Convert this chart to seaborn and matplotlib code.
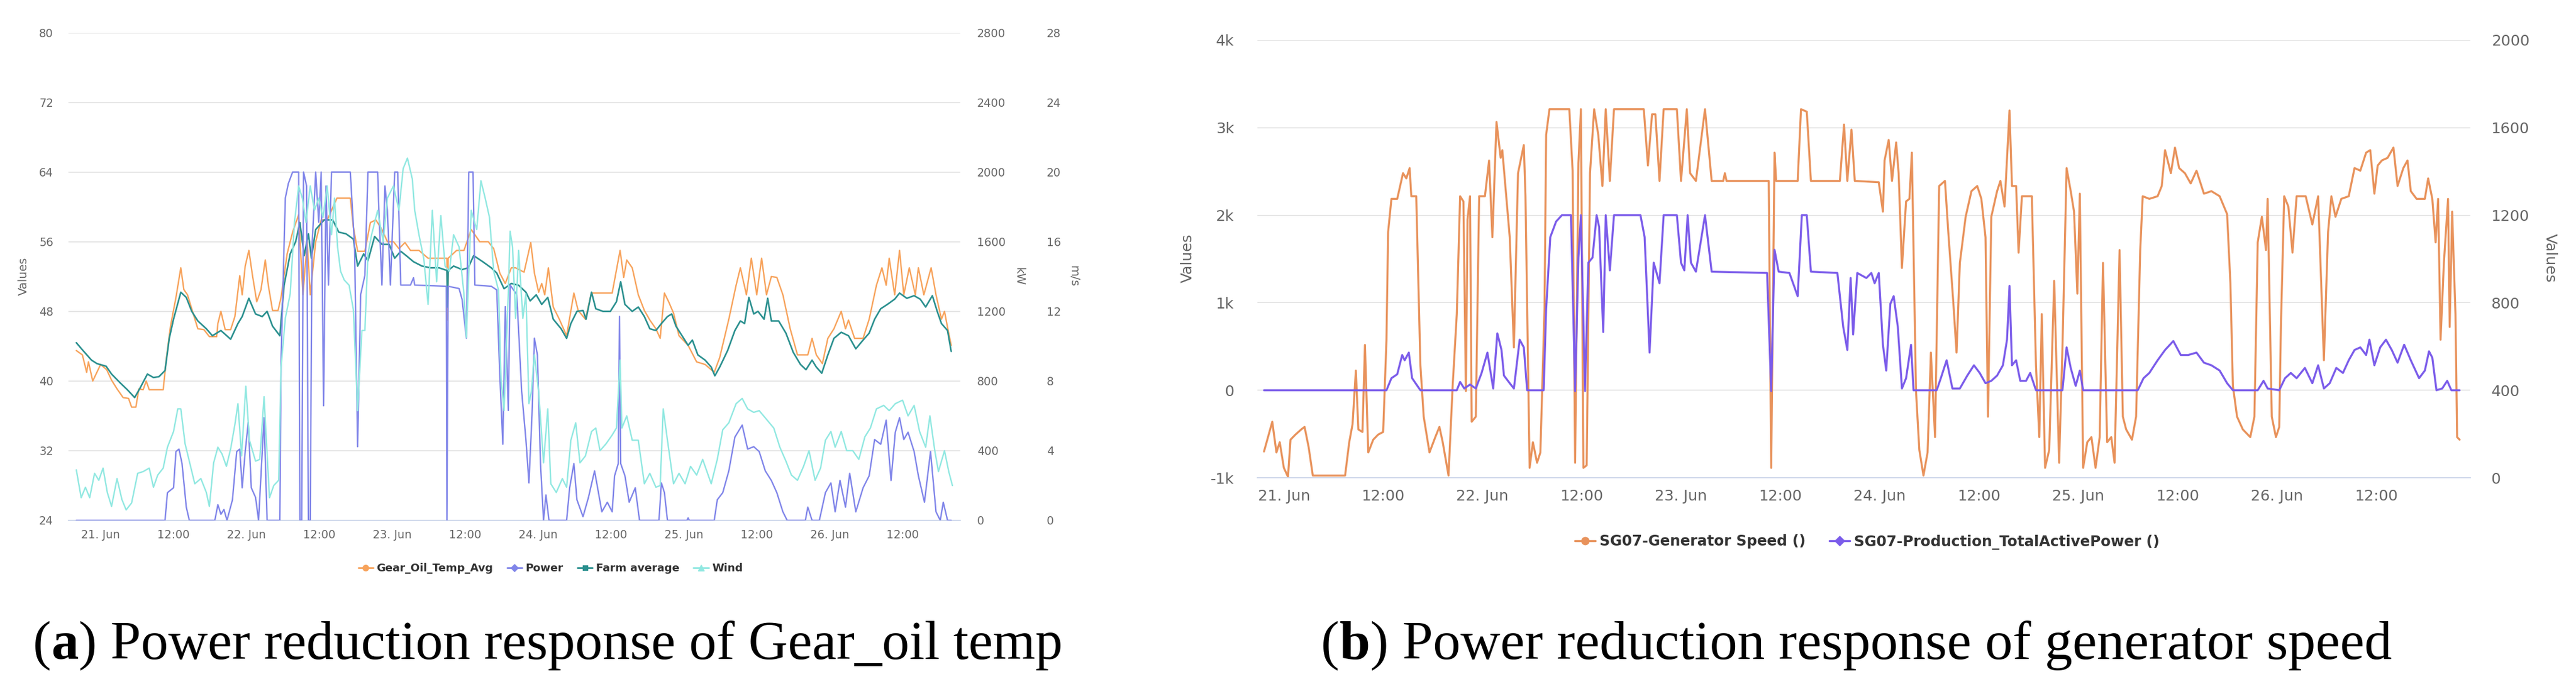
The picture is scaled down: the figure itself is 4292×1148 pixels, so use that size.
"""
Two Highcharts-style wind turbine panels rebuilt with seaborn:
(a) gear oil temperature vs power / wind, (b) generator speed vs active power.
"""

# =============== IMPORTS ===============
import matplotlib
matplotlib.use("Agg")
import matplotlib.pyplot as plt
from matplotlib.lines import Line2D
import seaborn as sns


# =============== DATA (hours after 21 Jun 00:00) ===============
# (a) Gear_Oil_Temp_Avg, deg C (left axis)
gear_t = [-4.0, -3.0, -2.3, -2.0, -1.3, 0.0, 1.0, 1.8, 2.7, 3.7, 4.6, 5.1, 5.8, 6.3, 7.0, 7.5, 8.0, 10.3,
          10.8, 11.5, 12.4, 13.2, 13.7, 14.3, 15.0, 16.0, 17.0, 17.9, 19.1, 19.3, 19.8, 20.5, 21.4, 22.1,
          22.9, 23.3, 23.8, 24.4, 25.0, 25.7, 26.4, 27.1, 27.6, 28.3, 29.2, 29.7, 30.7, 31.6, 32.6, 33.3,
          34.0, 34.5, 35.4, 36.3, 37.3, 38.2, 38.9, 41.1, 41.6, 42.3, 43.5, 44.4, 45.3, 46.3, 47.2, 48.2,
          49.1, 50.1, 51.0, 52.4, 53.9, 55.8, 57.0, 57.1, 57.2, 58.6, 59.8, 61.0, 62.4, 63.8, 64.7, 65.7,
          66.6, 67.6, 68.3, 69.7, 70.8, 71.4, 72.1, 72.6, 73.1, 73.7, 74.5, 75.5, 76.7, 77.9, 78.6, 79.8,
          80.8, 84.2, 84.6, 85.5, 86.1, 86.6, 87.5, 88.5, 89.5, 90.4, 91.4, 92.1, 92.8, 93.5, 94.3, 95.2,
          96.7, 98.1, 99.5, 101.0, 101.9, 103.4, 104.6, 105.3, 106.3, 107.1, 108.0, 108.8, 109.6, 110.4,
          111.3, 112.3, 113.5, 114.7, 116.4, 117.1, 117.8, 118.8, 119.7, 120.7, 121.9, 122.6, 123.1, 124.1,
          125.5, 126.5, 127.7, 128.6, 129.3, 129.8, 130.7, 131.5, 132.2, 133.1, 134.1, 134.6, 135.5, 136.7,
          137.5, 138.4, 138.9, 139.5, 140.0]
gear_v = [43.5, 43.0, 41.0, 42.2, 40.0, 41.9, 41.3, 40.1, 39.1, 38.1, 38.0, 37.0, 37.0, 39.1, 39.0, 40.0, 39.0, 39.0,
          42.4, 46.3, 49.6, 53.0, 50.5, 49.9, 48.3, 46.0, 45.9, 45.1, 45.1, 46.6, 48.0, 45.9, 45.9, 47.4,
          52.1, 49.9, 53.2, 55.0, 52.1, 49.1, 50.5, 53.9, 51.0, 48.1, 48.1, 49.6, 54.6, 57.1, 59.1, 49.9,
          56.0, 49.9, 56.0, 58.5, 58.5, 59.9, 61.0, 61.0, 57.7, 54.9, 54.9, 58.2, 58.5, 57.4, 56.0, 56.0,
          55.2, 55.9, 55.0, 55.0, 54.1, 54.1, 54.1, 47.0, 54.1, 55.0, 55.0, 57.4, 56.0, 56.0, 55.2, 52.4,
          51.2, 53.0, 53.0, 52.5, 55.9, 52.4, 50.2, 51.2, 49.9, 53.0, 48.5, 47.1, 45.2, 50.1, 48.1, 47.1,
          50.1, 50.1, 51.6, 55.0, 51.9, 53.9, 53.0, 49.9, 48.1, 47.0, 46.0, 44.9, 50.1, 49.1, 47.8, 45.2,
          44.1, 42.2, 41.9, 41.0, 42.7, 47.1, 51.0, 53.0, 49.9, 54.1, 49.9, 54.1, 49.9, 52.0,
          51.9, 49.9, 46.0, 43.0, 43.0, 44.9, 43.0, 42.0, 44.9, 46.0, 48.0, 46.0, 47.0, 44.9,
          44.9, 47.1, 51.0, 53.0, 51.0, 54.1, 49.9, 55.0, 49.9, 53.0, 49.9, 53.0, 49.9, 53.0,
          49.9, 47.1, 48.0, 45.8, 44.1]

# (a) Farm average, deg C (left axis)
farm_t = [-4.0, -2.9, -1.5, -0.6, 0.9, 1.8, 3.2, 4.4, 5.6, 6.5, 7.7, 8.7, 9.6, 10.6, 11.3, 12.0, 13.2, 14.1,
          15.0, 16.0, 17.4, 18.4, 19.8, 21.4, 22.6, 23.3, 24.4, 25.5, 26.6, 27.4, 28.3, 29.5, 30.2, 31.2,
          32.1, 32.8, 33.5, 34.2, 34.7, 35.4, 36.8, 38.2, 39.2, 40.4, 41.6, 42.3, 43.3, 44.0, 45.1, 46.3,
          47.5, 48.4, 49.4, 50.3, 51.5, 52.9, 54.3, 55.7, 57.0, 57.1, 57.2, 58.1, 59.5, 60.5, 61.4, 62.9,
          64.3, 65.2, 66.4, 67.6, 68.8, 70.0, 70.7, 71.7, 72.6, 73.6, 74.5, 75.8, 76.7, 77.4, 78.4, 79.4,
          79.9, 80.8, 81.5, 82.7, 83.9, 84.9, 85.6, 86.3, 87.5, 88.5, 89.5, 90.4, 91.4, 92.3, 93.3, 94.0,
          94.7, 95.7, 96.7, 97.4, 98.3, 99.5, 100.5, 101.1, 101.9, 103.2, 104.4, 105.3, 106.0, 106.7, 107.5,
          108.2, 109.2, 109.8, 110.4, 111.6, 112.8, 114.0, 115.2, 116.1, 117.1, 117.8, 118.7, 119.7, 120.7,
          121.9, 123.1, 124.3, 125.5, 126.5, 127.4, 128.4, 129.5, 130.7, 131.5, 132.7, 133.9, 134.9, 135.8,
          136.9, 137.7, 138.4, 139.4, 140.0]
farm_v = [44.4, 43.5, 42.4, 42.0, 41.7, 40.8, 39.8, 39.0, 38.1, 39.2, 40.8, 40.4, 40.5, 41.2, 44.9, 47.1, 50.2, 49.6,
          48.0, 46.9, 46.0, 45.2, 45.8, 44.8, 46.6, 47.4, 49.5, 47.7, 47.4, 48.0, 46.3, 45.2, 51.0, 54.6,
          56.0, 58.2, 54.4, 56.9, 54.1, 57.4, 58.5, 58.5, 57.1, 56.9, 56.3, 53.2, 54.6, 53.8, 56.6, 55.7,
          55.7, 54.1, 54.9, 54.4, 53.7, 53.2, 53.0, 53.0, 52.7, 48.5, 52.7, 53.2, 52.8, 53.0, 54.4, 53.7,
          53.0, 52.4, 50.6, 51.2, 51.0, 50.2, 49.2, 49.9, 48.8, 49.6, 47.1, 46.0, 44.9, 46.6, 48.0, 48.1,
          47.1, 50.2, 48.3, 48.0, 48.0, 49.1, 51.4, 48.8, 48.0, 48.5, 47.4, 46.0, 45.8, 46.6, 47.4, 47.7,
          46.3, 45.2, 44.1, 44.7, 43.0, 42.4, 41.6, 40.6, 41.6, 43.5, 45.8, 46.9, 46.6, 49.6, 47.7,
          48.0, 47.1, 49.5, 46.9, 46.9, 45.5, 43.3, 41.9, 41.3, 42.4, 41.6, 40.9, 43.0, 44.9,
          45.6, 45.2, 43.7, 44.7, 45.5, 47.1, 48.3, 48.8, 49.4, 50.1, 49.5, 49.8, 49.4, 48.5,
          49.8, 48.0, 46.6, 45.8, 43.4]

# (a) Power, kW (first right axis)
power_t = [-4.0, 10.6, 11.0, 12.0, 12.4, 12.9, 13.4, 14.1, 14.6, 18.8, 19.3, 19.8, 20.3, 20.8, 21.7, 22.4,
           22.9, 23.3, 23.8, 24.3, 24.8, 25.5, 26.0, 26.6, 26.9, 27.4, 29.5, 29.7, 30.4, 30.9, 31.6, 32.6,
           32.8, 33.1, 33.4, 33.9, 34.2, 34.5, 34.8, 35.4, 35.9, 36.3, 36.7, 37.1, 37.5, 38.0, 41.1, 41.8,
           42.3, 42.8, 43.5, 44.0, 45.6, 45.8, 46.3, 46.8, 47.2, 47.7, 48.4, 48.9, 49.4, 51.0, 51.5, 51.7,
           56.9, 57.0, 57.2, 59.0, 59.5, 60.2, 60.6, 61.3, 61.6, 64.3, 65.2, 65.7, 66.2, 66.6, 67.1, 67.4,
           68.5, 69.3, 70.0, 70.5, 71.0, 71.4, 71.9, 72.4, 72.9, 73.3, 73.8, 76.7, 77.2, 77.9, 78.4, 79.4,
           80.3, 81.3, 81.8, 82.5, 83.4, 84.2, 84.6, 85.2, 85.4, 85.6, 86.3, 87.0, 88.0, 88.7, 91.9, 92.3,
           92.8, 93.3, 96.5, 96.7, 96.9, 101.0, 101.5, 102.4, 103.4, 104.4, 105.6, 106.5, 107.5, 108.4,
           109.4, 110.4, 111.3, 112.3, 113.0, 116.0, 116.4, 117.1, 118.3, 119.3, 120.2, 120.9, 121.7, 122.6,
           123.3, 124.3, 125.5, 126.5, 127.4, 128.4, 129.3, 130.1, 130.8, 131.5, 132.2, 132.9, 133.9, 134.6,
           135.6, 136.6, 137.5, 138.2, 138.7, 139.4, 140.0]
power_v = [0, 0, 159, 187, 395, 409, 326, 76, 0, 0, 90, 35, 62, 0, 118, 395,
           409, 187, 395, 561, 187, 132, 0, 395, 589, 0, 0, 922, 1850, 1934, 2000, 2000,
           0, 0, 2000, 1920, 0, 0, 1573, 2000, 1712, 2000, 658, 1920, 1351, 2000, 2000, 1573,
           423, 1296, 1407, 2000, 2000, 1781, 1351, 1920, 1781, 1351, 2000, 2000, 1351, 1351, 1393, 1351,
           1344, 0, 1344, 1331, 1268, 1046, 2000, 2000, 1351, 1344, 1323, 838, 437, 1227, 631, 1351,
           1296, 742, 464, 215, 603, 1046, 949, 326, 0, 146, 0, 0, 187, 326, 118, 21,
           132, 284, 187, 49, 104, 49, 256, 326, 1171, 326, 256, 104, 187, 0, 0, 215,
           159, 0, 0, 14, 0, 0, 118, 159, 284, 478, 547, 409, 423, 395,
           284, 229, 159, 49, 0, 0, 76, 0, 0, 159, 215, 49, 229, 76,
           270, 49, 187, 256, 464, 437, 575, 229, 506, 589, 464, 506, 395, 256,
           104, 395, 49, 0, 104, 0, 0]

# (a) Wind, m/s (second right axis)
wind_t = [-4.0, -3.2, -2.5, -1.8, -1.0, -0.3, 0.4, 1.1, 1.8, 2.7, 3.5, 4.2, 5.1, 6.1, 7.0, 8.0, 8.7, 9.4,
          10.3, 11.0, 12.0, 12.7, 13.2, 13.9, 14.6, 15.5, 16.5, 17.4, 17.9, 18.6, 19.3, 20.0, 20.7, 21.4,
          22.1, 22.6, 23.2, 23.9, 24.5, 25.5, 26.2, 26.9, 27.4, 27.8, 28.5, 29.3, 29.7, 30.4, 31.2, 31.9,
          32.6, 33.2, 33.8, 34.5, 35.2, 35.9, 36.6, 37.3, 38.0, 38.5, 39.0, 39.5, 40.1, 40.9, 41.6, 42.3,
          43.0, 43.5, 44.0, 44.6, 45.6, 46.5, 47.2, 48.2, 49.1, 49.8, 50.5, 51.3, 51.7, 52.4, 53.2, 53.9,
          54.6, 55.3, 56.0, 56.7, 57.4, 58.1, 59.0, 59.8, 60.2, 61.0, 61.9, 62.6, 63.3, 64.0, 64.7, 65.5,
          65.9, 66.4, 67.1, 67.4, 67.8, 68.3, 68.8, 69.5, 70.0, 70.5, 70.9, 71.4, 72.1, 72.9, 73.6, 74.1,
          75.0, 76.0, 76.7, 77.4, 78.2, 78.9, 79.8, 80.8, 81.5, 82.2, 83.2, 84.2, 84.9, 85.5, 85.8, 86.6,
          87.5, 88.5, 89.5, 90.4, 91.4, 92.1, 92.6, 93.3, 94.3, 95.2, 96.2, 97.1, 98.1, 99.1, 100.5, 101.5,
          102.4, 103.4, 104.6, 105.6, 106.5, 107.5, 108.4, 109.6, 110.8, 111.8, 112.8, 113.7, 114.7, 115.7,
          116.6, 117.6, 118.5, 119.3, 120.2, 120.9, 121.9, 122.8, 123.8, 124.8, 125.8, 126.7, 127.7, 128.9,
          129.8, 130.8, 132.0, 132.9, 133.9, 134.8, 135.8, 136.5, 137.3, 137.9, 138.9, 139.6, 140.2]
wind_v = [2.9, 1.3, 1.9, 1.3, 2.7, 2.3, 3.0, 1.6, 0.8, 2.4, 1.2, 0.6, 1.0, 2.7, 2.8, 3.0, 1.9, 2.6,
          3.0, 4.2, 5.1, 6.4, 6.4, 4.4, 3.4, 2.1, 2.4, 1.6, 0.8, 3.3, 4.2, 3.8, 3.1, 4.1,
          5.5, 6.7, 3.7, 7.7, 4.6, 3.4, 3.5, 7.1, 3.8, 1.3, 2.0, 2.3, 8.8, 11.6, 13.0, 17.1,
          19.2, 18.5, 17.1, 19.2, 17.8, 18.5, 17.4, 19.2, 16.4, 18.5, 15.7, 14.3, 13.8, 13.5, 12.1, 6.3,
          10.9, 10.9, 15.3, 16.4, 17.8, 16.0, 18.5, 19.2, 17.8, 20.2, 20.8, 19.6, 17.8, 16.4, 15.0, 12.4,
          17.8, 13.7, 17.5, 14.6, 14.3, 16.4, 15.7, 13.0, 10.5, 17.8, 16.7, 19.5, 18.5, 17.4, 14.3, 13.2,
          8.1, 6.3, 13.0, 16.6, 15.7, 11.6, 15.5, 11.6, 13.0, 6.7, 7.4, 9.5, 7.4, 3.3, 6.4, 2.1,
          1.6, 2.4, 1.9, 4.6, 5.6, 3.3, 3.7, 5.1, 5.3, 4.0, 4.4, 4.9, 5.3, 9.2, 5.3, 6.0,
          4.6, 4.6, 2.1, 2.7, 1.9, 2.0, 6.4, 4.6, 2.1, 2.7, 2.1, 3.1, 2.6, 3.5, 2.1, 3.5,
          5.2, 5.6, 6.7, 7.0, 6.4, 6.2, 6.3, 5.8, 5.3, 4.2, 3.4, 2.6, 2.3, 3.1,
          4.0, 2.3, 3.0, 4.6, 5.1, 4.2, 5.1, 4.0, 4.0, 3.5, 4.8, 5.3, 6.4, 6.6,
          6.3, 6.7, 6.9, 6.0, 6.6, 5.1, 4.2, 6.0, 4.0, 2.8, 4.0, 2.8, 2.0]

# (b) SG07-Generator Speed (left axis)
speed_t = [-2.4, -1.4, -0.9, -0.5, 0.0, 0.5, 0.8, 1.4, 2.1, 2.5, 3.0, 3.5, 7.4, 7.9, 8.3, 8.7, 9.0, 9.5, 9.8,
           10.2, 10.8, 11.4, 12.0, 12.4, 12.6, 13.0, 13.7, 14.4, 14.8, 15.2, 15.4, 16.0, 16.5, 16.9, 17.6,
           18.3, 18.8, 19.2, 19.9, 20.4, 20.9, 21.3, 21.7, 22.0, 22.2, 22.5, 22.7, 23.2, 23.6, 24.3, 24.8,
           25.2, 25.7, 26.2, 26.4, 26.9, 27.3, 27.8, 28.3, 29.0, 29.2, 29.7, 30.1, 30.6, 31.0, 31.5, 31.7,
           32.1, 34.5, 34.9, 35.2, 35.6, 35.9, 36.2, 36.6, 37.0, 37.5, 38.0, 38.5, 38.9, 39.4, 39.9, 43.5,
           44.0, 44.5, 44.9, 45.4, 45.9, 47.5, 48.0, 48.7, 49.1, 49.8, 50.9, 51.7, 53.1, 53.3, 53.5, 58.6,
           58.9, 59.3, 59.5, 62.1, 62.5, 63.2, 63.7, 67.2, 67.7, 68.1, 68.6, 69.0, 71.9, 72.4, 72.6, 73.1,
           73.5, 74.0, 74.3, 74.7, 75.2, 75.6, 75.9, 76.4, 76.8, 77.3, 77.8, 78.2, 78.7, 79.2, 79.9, 80.3,
           80.9, 81.3, 81.7, 82.4, 83.1, 83.8, 84.3, 84.8, 85.1, 85.5, 86.2, 86.6, 87.1, 87.7, 88.0, 88.5,
           88.8, 89.2, 90.4, 90.9, 91.3, 91.6, 92.0, 92.5, 93.1, 93.7, 94.1, 94.6, 95.1, 95.5, 95.9, 96.2,
           96.6, 97.1, 97.6, 98.1, 98.6, 99.0, 99.5, 100.0, 100.4, 101.0, 101.4, 101.8, 102.5, 103.0, 103.5,
           103.8, 104.6, 105.6, 106.1, 106.5, 107.2, 107.7, 108.2, 108.9, 109.6, 110.3, 111.2, 112.1, 113.1,
           114.0, 114.4, 114.7, 115.2, 115.9, 116.8, 117.3, 117.7, 118.2, 118.7, 118.9, 119.4, 119.9, 120.3,
           120.5, 120.9, 121.4, 121.9, 122.4, 123.5, 124.3, 125.0, 125.7, 126.2, 126.6, 127.1, 127.8, 128.7,
           129.4, 130.1, 130.8, 131.3, 131.8, 132.2, 132.7, 133.4, 134.1, 134.6, 135.3, 135.8, 136.2, 136.9,
           137.9, 138.3, 138.8, 139.2, 139.5, 139.8, 140.2, 140.7, 140.9, 141.2, 141.6, 141.8, 142.1]
speed_v = [-700, -360, -711, -594, -887, -990, -565, -507, -448, -419, -653, -975, -975, -594, -389, 225, -448, -477, 518,
           -711, -565, -507, -477, 577, 1807, 2187, 2187, 2480, 2421, 2539, 2217, 2217, 284, -302, -711,
           -536, -419, -594, -975, 50, 870, 2217, 2158, -9, 1953, 2217, -360, -302, 2217, 2217, 2626,
           1748, 3066, 2656, 2744, 2187, 1748, 489, 2480, 2802, 2217, -887, -594, -829, -711, 928, 2919,
           3212, 3212, 2509, -829, 2597, 3212, -887, -858, 2480, 3212, 2919, 2334, 3212, 2392, 3212, 3212,
           2568, 3154, 3154, 2392, 3212, 3212, 2392, 3212, 2480, 2392, 3212, 2392, 2392, 2480, 2392, 2392,
           -887, 2715, 2392, 2392, 3212, 3183, 2392, 2392, 3036, 2392, 2978, 2392, 2377, 2041, 2626, 2861,
           2392, 2832, 2480, 1397, 2158, 2187, 2715, -9, -682, -975, -711, 430, -536, 2334, 2392, 1807,
           1016, 430, 1455, 1982, 2275, 2334, 2187, 1748, -302, 1982, 2275, 2392, 2099, 3197, 2334, 2334,
           1572, 2217, 2217, 284, -536, 870, -887, -682, 1250, -829, 489, 2539, 2275, 2041, 1104, 2246,
           -887, -594, -536, -887, -536, 1455, -594, -536, -829, 1602, -302, -448, -565, -302, 1602,
           2217, 2187, 2217, 2334, 2744, 2480, 2773, 2539, 2480, 2363, 2509, 2246, 2275, 2217,
           2012, 1221, 50, -302, -448, -536, -302, 1690, 1982, 1602, 2187, -302, -536, -419,
           723, 2217, 2099, 1572, 2217, 2217, 1894, 2217, 343, 1807, 2217, 1982, 2187, 2217,
           2539, 2509, 2715, 2744, 2246, 2568, 2626, 2656, 2773, 2334, 2539, 2626, 2275, 2187,
           2187, 2421, 2187, 1690, 2187, 577, 1455, 2187, 723, 2041, 870, -536, -565]

# (b) SG07-Production_TotalActivePower (right axis)
prod_t = [-2.4, 12.4, 13.0, 13.7, 14.3, 14.6, 15.1, 15.5, 16.5, 20.9, 21.3, 21.8, 22.5, 23.2, 23.9, 24.6, 25.3,
          25.8, 26.3, 26.6, 27.3, 27.8, 28.5, 29.0, 29.4, 31.4, 31.7, 32.2, 32.9, 33.6, 34.7, 35.2, 35.6,
          35.9, 36.4, 36.8, 37.3, 37.8, 38.1, 38.6, 38.9, 39.4, 39.9, 43.1, 43.6, 44.2, 44.7, 45.4, 45.9,
          47.5, 48.0, 48.4, 48.8, 49.2, 49.8, 50.9, 51.7, 58.4, 58.9, 59.3, 59.8, 61.1, 62.1, 62.6, 63.2,
          63.7, 66.9, 67.6, 68.1, 68.5, 68.8, 69.3, 70.4, 71.0, 71.4, 71.9, 72.4, 72.8, 73.3, 73.7, 74.2,
          74.7, 75.2, 75.8, 76.1, 78.9, 79.4, 80.1, 80.8, 81.7, 82.6, 83.4, 84.1, 84.8, 85.5, 86.2, 86.9,
          87.4, 87.7, 88.0, 88.5, 89.0, 89.7, 90.2, 90.9, 94.1, 94.6, 95.1, 95.7, 96.2, 96.6, 103.2, 103.9,
          104.6, 105.6, 106.5, 107.5, 108.4, 109.3, 110.3, 111.2, 112.1, 113.1, 114.0, 114.7, 117.7, 118.4,
          118.9, 120.3, 121.0, 121.7, 122.4, 123.4, 124.3, 125.0, 125.7, 126.4, 127.2, 128.0, 128.7, 129.4,
          130.1, 130.8, 131.2, 131.8, 132.5, 133.2, 133.9, 134.6, 135.4, 136.2, 137.2, 137.9, 138.4, 138.8,
          139.3, 140.0, 140.6, 141.1, 142.1]
prod_v = [400, 400, 455, 473, 561, 537, 572, 455, 400, 400, 438, 408, 426, 408, 479, 572, 408,
          660, 584, 467, 432, 408, 631, 596, 400, 400, 772, 1100, 1171, 1200, 1200, 396, 1006,
          1200, 396, 983, 1006, 1200, 1147, 666, 1200, 948, 1200, 1200, 1100, 572, 983, 889, 1200,
          1200, 983, 948, 1200, 983, 942, 1200, 942, 936, 396, 1042, 942, 936, 830, 1200, 1200,
          942, 936, 690, 584, 913, 655, 936, 913, 936, 889, 936, 608, 490, 795, 830, 690,
          408, 455, 608, 400, 400, 455, 537, 408, 408, 467, 514, 479, 432, 443, 467, 514,
          631, 877, 514, 537, 443, 443, 479, 400, 400, 596, 502, 420, 490, 400, 400, 455,
          479, 537, 584, 625, 561, 561, 572, 526, 514, 490, 432, 400, 400, 443,
          408, 400, 455, 479, 455, 502, 432, 514, 408, 432, 502, 479, 537, 584,
          596, 561, 631, 514, 596, 631, 584, 526, 608, 537, 455, 490, 578, 549,
          400, 408, 443, 400, 400]

tick_hours = [0, 12, 24, 36, 48, 60, 72, 84, 96, 108, 120, 132]
tick_labels = ["21. Jun", "12:00", "22. Jun", "12:00", "23. Jun", "12:00",
               "24. Jun", "12:00", "25. Jun", "12:00", "26. Jun", "12:00"]


# =============== STYLE ===============
sns.set_style("white")
plt.rcParams["font.family"] = ["DejaVu Sans"]

W, H = 4292, 1148
GRID = "#e6e6e6"
AXIS_BLUE = "#ccd6eb"
TXT = "#666666"
LEG_TXT = "#333333"


def frac(x0, y0, x1, y1):
    """pixel box (top-left origin) -> figure fractions"""
    return [x0 / W, 1 - y1 / H, (x1 - x0) / W, (y1 - y0) / H]


def base_style(ax, fs, pad_y, pad_x):
    for s in ["top", "left", "right"]:
        ax.spines[s].set_visible(False)
    ax.spines["bottom"].set_color(AXIS_BLUE)
    ax.spines["bottom"].set_linewidth(1.3)
    ax.yaxis.grid(True, color=GRID, linewidth=1.4)
    ax.xaxis.grid(False)
    ax.set_axisbelow(True)
    ax.tick_params(axis="y", length=0, labelsize=fs, labelcolor=TXT, pad=pad_y)
    ax.tick_params(axis="x", length=7, width=1.2, color=AXIS_BLUE, labelsize=fs,
                   labelcolor=TXT, pad=pad_x)
    ax.set_xticks(tick_hours)
    ax.set_xticklabels(tick_labels)
    ax.set_xlabel("")
    ax.set_ylabel("")


def twin_style(tw, fs, pad):
    for s in tw.spines.values():
        s.set_visible(False)
    tw.grid(False)
    tw.tick_params(axis="y", length=0, labelsize=fs, labelcolor=TXT, pad=pad)
    tw.set_ylabel("")


def draw(ax, x, y, color, lw):
    sns.lineplot(x=x, y=y, ax=ax, color=color, linewidth=lw,
                 estimator=None, sort=False, legend=False)


fig = plt.figure(figsize=(W / 100, H / 100), dpi=100)

# =============== PANEL (a) ===============
ax_a = fig.add_axes(frac(114, 54.5, 1600, 867))
ax_kw = ax_a.twinx()
ax_ms = ax_a.twinx()

draw(ax_a, gear_t, gear_v, "#f7a35c", 1.7)
draw(ax_kw, power_t, power_v, "#8085e9", 1.7)
draw(ax_a, farm_t, farm_v, "#2b908f", 1.9)
draw(ax_ms, wind_t, wind_v, "#91e8e1", 1.7)

ax_a.set_xlim(-5.3, 141.5)
ax_a.set_ylim(24, 80)
ax_a.set_yticks(range(24, 81, 8))
base_style(ax_a, 13.5, 18, 4)

ax_kw.set_ylim(0, 2800)
ax_kw.set_yticks(range(0, 2801, 400))
twin_style(ax_kw, 13.5, 20)

ax_ms.set_ylim(0, 28)
ax_ms.set_yticks(range(0, 29, 4))
ax_ms.spines["right"].set_position(("outward", 116 * 0.72))
twin_style(ax_ms, 13.5, 20)

fig.text(39 / W, 1 - 460 / H, "Values", rotation=90, ha="center", va="center", fontsize=14, color=TXT)
fig.text(1698 / W, 1 - 460 / H, "kW", rotation=270, ha="center", va="center", fontsize=14, color=TXT)
fig.text(1789 / W, 1 - 460 / H, "m/s", rotation=270, ha="center", va="center", fontsize=14, color=TXT)

leg_a = [
    Line2D([0], [0], color="#f7a35c", lw=2, marker="o", markersize=7),
    Line2D([0], [0], color="#8085e9", lw=2, marker="D", markersize=6),
    Line2D([0], [0], color="#2b908f", lw=2, marker="s", markersize=6),
    Line2D([0], [0], color="#91e8e1", lw=2, marker="^", markersize=7),
]
fig.legend(leg_a, ["Gear_Oil_Temp_Avg", "Power", "Farm average", "Wind"],
           loc="center", bbox_to_anchor=(917 / W, 1 - 947 / H), ncol=4, frameon=False,
           prop={"weight": "bold", "size": 13}, labelcolor=LEG_TXT,
           handlelength=1.4, handletextpad=0.3, columnspacing=1.3)

# =============== PANEL (b) ===============
ax_b = fig.add_axes(frac(2095, 67, 4116, 796))
ax_p = ax_b.twinx()

draw(ax_b, speed_t, speed_v, "#e8925b", 2.4)
draw(ax_p, prod_t, prod_v, "#7b5cea", 2.4)

ax_b.set_xlim(-3.2, 143.4)
ax_b.set_ylim(-1000, 4000)
ax_b.set_yticks(range(-1000, 4001, 1000))
base_style(ax_b, 18, 28, 7)
ax_b.set_yticklabels(["-1k", "0", "1k", "2k", "3k", "4k"])

ax_p.set_ylim(0, 2000)
ax_p.set_yticks(range(0, 2001, 400))
twin_style(ax_p, 18, 25)

fig.text(1979 / W, 1 - 430 / H, "Values", rotation=90, ha="center", va="center", fontsize=18, color=TXT)
fig.text(4249 / W, 1 - 430 / H, "Values", rotation=270, ha="center", va="center", fontsize=18, color=TXT)

leg_b = [
    Line2D([0], [0], color="#e8925b", lw=2.5, marker="o", markersize=9),
    Line2D([0], [0], color="#7b5cea", lw=2.5, marker="D", markersize=8),
]
fig.legend(leg_b, ["SG07-Generator Speed ()", "SG07-Production_TotalActivePower ()"],
           loc="center", bbox_to_anchor=(3111 / W, 1 - 903 / H), ncol=2, frameon=False,
           prop={"weight": "bold", "size": 17.5}, labelcolor=LEG_TXT,
           handlelength=1.4, handletextpad=0.3, columnspacing=1.6)


# =============== CAPTIONS ===============
def caption(x_px, letter, rest, target_px):
    fig.canvas.draw()
    renderer = fig.canvas.get_renderer()
    size = 50.0
    for attempt in range(2):
        x = x_px
        parts = []
        for txt, wt in [("(", "normal"), (letter, "bold"), (") " + rest, "normal")]:
            t = fig.text(x / W, 1 - 1098 / H, txt, fontsize=size, weight=wt,
                         family=["Liberation Serif"], color="black", va="baseline")
            parts.append(t)
            x += t.get_window_extent(renderer).width
        if attempt == 0:
            for t in parts:
                t.remove()
            size *= target_px / (x - x_px)


caption(55, "a", "Power reduction response of Gear_oil temp", 1717)
caption(2201, "b", "Power reduction response of generator speed", 1786)

fig.savefig("out.png", dpi=100)
